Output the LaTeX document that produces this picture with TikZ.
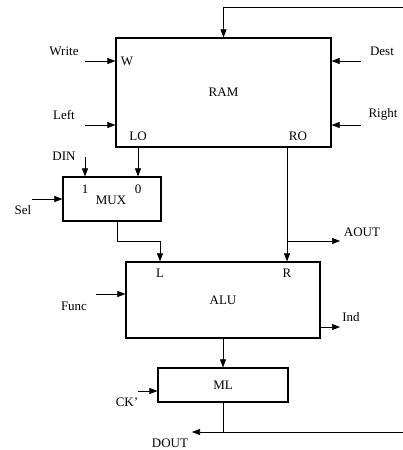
\documentclass[tikz,border=0pt]{standalone}
\usepackage{fontspec}
\setmainfont{Liberation Serif}
\usetikzlibrary{arrows.meta}

\begin{document}
\begin{tikzpicture}[x=1pt, y=-1pt,
  block/.style={draw, line width=1.2pt, inner sep=0pt, font=\fontsize{13}{15}\selectfont},
  sig/.style={-{Triangle[length=8pt,width=6pt]}, line width=0.6pt},
  wire/.style={line width=0.6pt},
  lbl/.style={inner sep=0pt, font=\fontsize{13}{15}\selectfont}]
  \useasboundingbox (0,0) rectangle (403,450);
  % Blocks.
  \node[block, minimum width=215pt, minimum height=109pt] (ram) at (223.5,92.5) {RAM};
  \node[block, minimum width=98pt,  minimum height=44pt]  (mux) at (112,199)    {};
  \node[block, minimum width=194pt, minimum height=76pt]  (alu) at (223,300)    {ALU};
  \node[block, minimum width=130pt, minimum height=34pt]  (ml)  at (223,385)    {ML};
  % Port labels.
  \node[lbl] (wport)  at (127,61)  {W};
  \node[lbl] (loport) at (138,136) {LO};
  \node[lbl] (roport) at (298,136) {RO};
  \node[lbl] (mux1)   at (85,189)  {1};
  \node[lbl] (mux0)   at (138,189) {0};
  \node[lbl] (muxlbl) at (111,200) {MUX};
  \node[lbl] (lport)  at (160,273) {L};
  \node[lbl] (rport)  at (287,273) {R};
  % Signal labels.
  \node[lbl] (write) at (64,51)   {Write};
  \node[lbl] (left)  at (64,115)  {Left};
  \node[lbl] (dest)  at (382,51)  {Dest};
  \node[lbl] (right) at (383,114) {Right};
  \node[lbl] (din)   at (64,156)  {DIN};
  \node[lbl] (sel)   at (23,210)  {Sel};
  \node[lbl] (aout)  at (362,232) {AOUT};
  \node[lbl] (func)  at (74,306)  {Func};
  \node[lbl] (ind)   at (351,317) {Ind};
  \node[lbl] (ck)    at (127,402) {CK'};
  \node[lbl] (dout)  at (170,443) {DOUT};
  % Free ends.
  \coordinate (fbtop)  at (403,7);
  \coordinate (wrin)   at (85,61);
  \coordinate (lfin)   at (85,125);
  \coordinate (dsin)   at (361,61);
  \coordinate (rtin)   at (361,125);
  \coordinate (dinin)  at (85,157);
  \coordinate (selin)  at (32,199);
  \coordinate (mo)     at (117,241);
  \coordinate (ao)     at (287,241);
  \coordinate (aoend)  at (340,241);
  \coordinate (funcin) at (96,294);
  \coordinate (indend) at (340,327);
  \coordinate (ckin)   at (138,391);
  \coordinate (dj)     at (223,432);
  \coordinate (doend)  at (192,432);
  \coordinate (fbbot)  at (403,432);
  % Inputs to RAM.
  \draw[sig] (fbtop) -| (ram.north);
  \draw[sig] (wrin) -- (wrin -| ram.west);
  \draw[sig] (lfin) -- (lfin -| ram.west);
  \draw[sig] (dsin) -- (dsin -| ram.east);
  \draw[sig] (rtin) -- (rtin -| ram.east);
  % MUX.
  \draw[sig] (ram.south -| loport) -- (mux.north -| loport);
  \draw[sig] (dinin) -- (dinin |- mux.north);
  \draw[sig] (selin) -- (selin -| mux.west);
  % ALU.
  \draw[sig] (mux.south -| mo) -- (mo) -| (lport |- alu.north);
  \draw[sig] (ram.south -| rport) -- (rport |- alu.north);
  \draw[sig] (ao) -- (aoend);
  \draw[sig] (funcin) -- (funcin -| alu.west);
  \draw[sig] (indend -| alu.east) -- (indend);
  % ML.
  \draw[sig] (alu.south) -- (ml.north);
  \draw[sig] (ckin) -- (ckin -| ml.west);
  \draw[wire] (ml.south) -- (dj);
  \draw[sig] (fbbot) -- (doend);
\end{tikzpicture}
\end{document}
